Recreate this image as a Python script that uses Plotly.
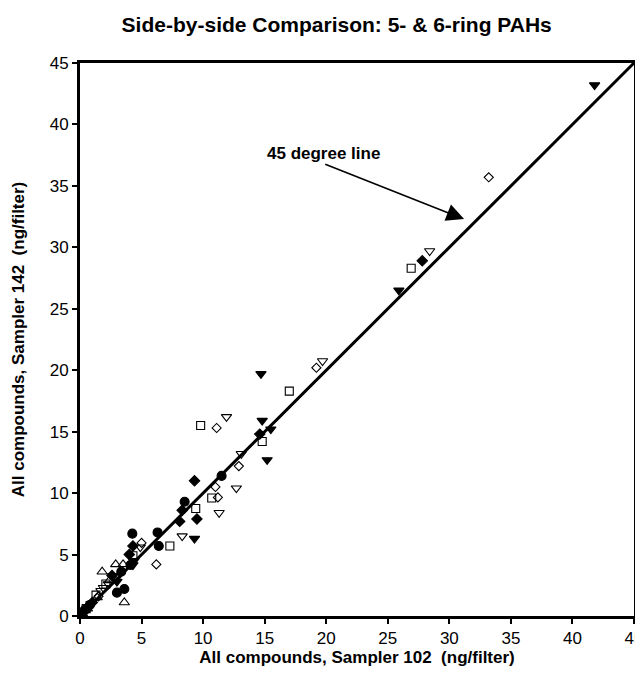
import plotly.graph_objects as go

# ---- data (ng/filter): x = Sampler 102, y = Sampler 142 ----
filled_circle_x = [0.1, 0.4, 0.8, 3.0, 3.6, 3.35, 4.1, 4.25, 6.3, 6.4, 8.5, 11.5]
filled_circle_y = [0.1, 0.5, 0.9, 1.9, 2.2, 3.6, 4.15, 6.7, 6.8, 5.7, 9.3, 11.4]

filled_diamond_x = [27.8, 14.6, 9.3, 8.3, 9.5, 8.1, 4.3, 4.0, 2.6, 0.6, 1.0]
filled_diamond_y = [28.9, 14.8, 11.0, 8.6, 7.9, 7.7, 5.7, 5.0, 3.3, 0.7, 1.1]

filled_tri_down_x = [41.8, 25.9, 14.7, 14.8, 15.5, 15.2, 9.3, 4.3, 4.4, 2.65, 3.0, 0.5, 0.2]
filled_tri_down_y = [43.2, 26.5, 19.7, 15.9, 15.2, 12.7, 6.3, 4.15, 4.5, 3.25, 2.8, 0.5, 0.2]

open_square_x = [26.9, 17.0, 9.8, 14.8, 10.7, 9.4, 7.3, 4.3, 2.1, 1.3, 0.5, 0.0]
open_square_y = [28.3, 18.3, 15.5, 14.2, 9.6, 8.75, 5.7, 4.9, 2.6, 1.7, 0.6, 0.0]

open_diamond_x = [33.2, 19.2, 11.1, 12.9, 11.0, 11.2, 5.0, 6.2, 1.5, 0.3]
open_diamond_y = [35.7, 20.2, 15.3, 12.2, 10.5, 9.65, 5.95, 4.2, 1.6, 0.3]

open_tri_down_x = [28.4, 19.7, 11.9, 13.1, 12.7, 11.3, 8.3, 4.9, 3.1, 1.9, 1.7, 2.3, 0.9]
open_tri_down_y = [29.7, 20.75, 16.2, 13.2, 10.4, 8.4, 6.5, 5.6, 3.25, 2.3, 2.05, 2.6, 1.0]

open_tri_up_x = [1.8, 2.9, 3.5, 3.6, 1.4, 0.6, 0.2, 2.4]
open_tri_up_y = [3.6, 4.2, 4.2, 1.1, 1.5, 0.6, 0.2, 2.9]

line_x = [0, 45]
line_y = [0, 45]

tick_vals = [0, 5, 10, 15, 20, 25, 30, 35, 40, 45]

FONT = "Liberation Sans, Arial, sans-serif"

fig = go.Figure()

fig.add_trace(go.Scatter(x=line_x, y=line_y, mode="lines",
                         line=dict(color="black", width=3), hoverinfo="skip"))

series = [
    ("Compound A", filled_circle_x, filled_circle_y, "circle", 9, "black"),
    ("Compound B", filled_diamond_x, filled_diamond_y, "diamond", 8, "black"),
    ("Compound C", filled_tri_down_x, filled_tri_down_y, "triangle-down", 9, "black"),
    ("Compound D", open_square_x, open_square_y, "square-open", 8, "black"),
    ("Compound E", open_diamond_x, open_diamond_y, "diamond-open", 7, "black"),
    ("Compound F", open_tri_down_x, open_tri_down_y, "triangle-down-open", 9, "black"),
    ("Compound G", open_tri_up_x, open_tri_up_y, "triangle-up-open", 9, "black"),
]
for name, xs, ys, sym, sz, col in series:
    fig.add_trace(go.Scatter(
        x=xs, y=ys, mode="markers", name=name,
        marker=dict(symbol=sym, size=sz, color=col,
                    line=dict(color="black", width=1.1)),
    ))

axis_common = dict(
    range=[0, 45], tickvals=tick_vals, showgrid=False, zeroline=False,
    showline=True, linecolor="black", linewidth=3, mirror=True,
    ticks="outside", ticklen=5, tickwidth=2, tickcolor="black",
    tickfont=dict(family=FONT, size=17, color="black"),
    automargin=False, ticklabeloverflow="allow",
)

# the page body adds an 8px offset, so the figure is sized to compensate
fig.update_layout(
    width=643, height=666,
    margin=dict(l=72, r=17, t=55, b=58),
    paper_bgcolor="white", plot_bgcolor="white",
    showlegend=False,
    title=dict(text="Side-by-side Comparison: 5- & 6-ring PAHs",
               x=328.7 / 643, xanchor="center", y=0.9745, yanchor="middle",
               font=dict(family=FONT, size=21, color="black", weight="bold")),
    xaxis=dict(**axis_common,
               title=dict(text="All compounds, Sampler 102  (ng/filter)", standoff=4,
                          font=dict(family=FONT, size=17, color="black", weight="bold"))),
    yaxis=dict(**axis_common,
               title=dict(text="All compounds, Sampler 142  (ng/filter)", standoff=21,
                          font=dict(family=FONT, size=17, color="black", weight="bold"))),
)

fig.add_annotation(x=31.2, y=32.3, ax=19.8, ay=36.8, xref="x", yref="y",
                   axref="x", ayref="y", text="", showarrow=True,
                   arrowhead=2, arrowsize=2.2, arrowwidth=1.6, arrowcolor="black")
fig.add_annotation(x=19.76, y=37.67, xref="x", yref="y", text="45 degree line",
                   showarrow=False, yanchor="middle",
                   font=dict(family=FONT, size=17, color="black", weight="bold"))

fig.write_html("out.html")
